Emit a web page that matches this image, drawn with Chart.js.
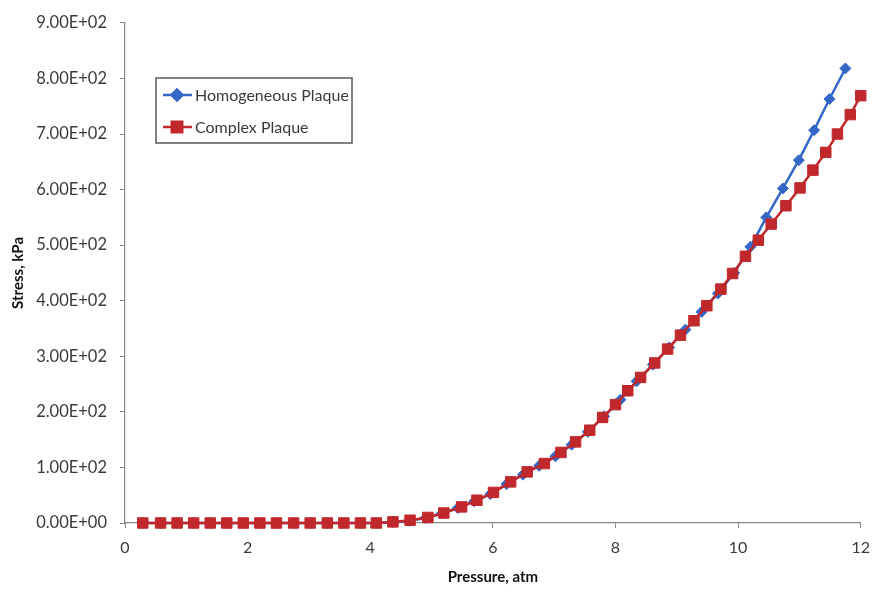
<!DOCTYPE html>
<html>
<head>
<meta charset="utf-8">
<title>Stress vs Pressure</title>
<script src="https://cdn.jsdelivr.net/npm/chart.js@4.4.1/dist/chart.umd.min.js"></script>
<style>
  html, body { margin: 0; padding: 0; background: #fff; }
  #wrap { width: 880px; height: 593px; position: relative; }
</style>
</head>
<body>
<div id="wrap"><canvas id="stressChart"></canvas></div>
<script>
const homogeneousPressure = [
  0.29, 0.58, 0.85, 1.12, 1.39, 1.66, 1.93, 2.20, 2.47, 2.75, 3.02, 3.30, 3.57, 3.84, 4.10, 4.37,
  4.635, 4.90, 5.165, 5.43, 5.695, 5.96, 6.225, 6.49, 6.755, 7.02, 7.285, 7.55, 7.815, 8.08,
  8.345, 8.61, 8.875, 9.14, 9.405, 9.67, 9.935, 10.20, 10.46, 10.73, 10.99, 11.24, 11.49, 11.75
];
const homogeneousStress = [
  0, 0, 0, 0, 0, 0, 0, 0, 0, 0, 0, 0, 0, 0, 0, 2,
  4, 9, 17, 27, 39, 52, 70, 87, 103, 120, 141, 164, 192, 222,
  255, 285, 316, 348, 380, 413, 450, 497, 550, 602, 653, 707, 763, 818
];
const complexPressure = [
  0.29, 0.58, 0.85, 1.12, 1.39, 1.66, 1.93, 2.20, 2.47, 2.75, 3.02, 3.30, 3.57, 3.84, 4.10, 4.37,
  4.65, 4.94, 5.20, 5.49, 5.74, 6.01, 6.29, 6.56, 6.84, 7.11, 7.35, 7.58, 7.79, 8.00,
  8.20, 8.41, 8.64, 8.85, 9.06, 9.28, 9.49, 9.72, 9.91, 10.12, 10.33, 10.54, 10.78, 11.01,
  11.22, 11.43, 11.62, 11.83, 12.00
];
const complexStress = [
  0, 0, 0, 0, 0, 0, 0, 0, 0, 0, 0, 0, 0, 0, 0, 2,
  5, 10, 18, 29, 41, 55, 74, 92, 107, 127, 146, 167, 190, 213,
  238, 262, 288, 313, 338, 364, 391, 421, 449, 480, 509, 538, 571, 603,
  635, 667, 700, 735, 769
];
const pressureTicks = [0, 2, 4, 6, 8, 10, 12];
const stressTicks = [0, 100, 200, 300, 400, 500, 600, 700, 800, 900];

const axisColor = "#868686";
const labelColor = "#3a3a3a";
const fontFamily = "Lato, 'Open Sans', sans-serif";

const legendBox = {
  id: "legendBox",
  afterDraw(chart) {
    const ctx = chart.ctx;
    const left = 156;
    const top = 78;
    const width = 196;
    const height = 65;

    ctx.save();
    ctx.fillStyle = "#ffffff";
    ctx.fillRect(left, top, width, height);
    ctx.strokeStyle = "#5a5a5a";
    ctx.lineWidth = 1.5;
    ctx.strokeRect(left, top, width, height);

    chart.data.datasets.forEach((ds, i) => {
      const y = top + 17 + i * 32;
      ctx.strokeStyle = ds.borderColor;
      ctx.lineWidth = ds.borderWidth;
      ctx.beginPath();
      ctx.moveTo(left + 7, y);
      ctx.lineTo(left + 36, y);
      ctx.stroke();

      ctx.fillStyle = ds.pointBackgroundColor;
      ctx.strokeStyle = ds.pointBorderColor;
      Chart.helpers.drawPoint(ctx, {
        pointStyle: ds.pointStyle,
        radius: ds.pointRadius,
        borderWidth: 1,
        rotation: 0
      }, left + 21, y);

      ctx.fillStyle = labelColor;
      ctx.font = `16px ${fontFamily}`;
      ctx.textBaseline = "middle";
      ctx.textAlign = "left";
      ctx.fillText(ds.label, left + 39, y + 1);
    });
    ctx.restore();
  }
};

function formatSci(value) {
  if (value === 0) {
    return "0.00E+00";
  }
  const exp = Math.floor(Math.log10(Math.abs(value)));
  const mant = value / Math.pow(10, exp);
  const sign = exp < 0 ? "-" : "+";
  return `${mant.toFixed(2)}E${sign}${String(Math.abs(exp)).padStart(2, "0")}`;
}

function toPoints(xs, ys) {
  return xs.map((x, i) => ({ x: x, y: ys[i] }));
}

const blue = "#3467c6";
const red = "#c0282b";

new Chart(document.getElementById("stressChart"), {
  type: "line",
  data: {
    datasets: [
      {
        label: "Homogeneous Plaque",
        data: toPoints(homogeneousPressure, homogeneousStress),
        borderColor: blue,
        backgroundColor: blue,
        pointBackgroundColor: blue,
        pointBorderColor: blue,
        pointStyle: "rectRot",
        pointRadius: 5.5,
        pointBorderWidth: 1,
        borderWidth: 2.5,
        tension: 0,
        clip: false,
        order: 1
      },
      {
        label: "Complex Plaque",
        data: toPoints(complexPressure, complexStress),
        borderColor: red,
        backgroundColor: red,
        pointBackgroundColor: red,
        pointBorderColor: red,
        pointStyle: "rect",
        pointRadius: 7.4,
        pointBorderWidth: 1,
        borderWidth: 2.5,
        tension: 0,
        clip: false,
        order: 0
      }
    ]
  },
  options: {
    responsive: true,
    maintainAspectRatio: false,
    animation: false,
    layout: {
      padding: { left: 0, right: 12, top: 16, bottom: 0 }
    },
    plugins: {
      legend: { display: false },
      tooltip: { enabled: false }
    },
    scales: {
      x: {
        type: "linear",
        min: 0,
        max: 12,
        afterBuildTicks: (axis) => {
          axis.ticks = pressureTicks.map((v) => ({ value: v }));
        },
        afterFit: (scale) => {
          scale.height = 70;
        },
        grid: {
          drawOnChartArea: false,
          drawTicks: true,
          tickLength: 5,
          color: axisColor
        },
        border: { color: axisColor, width: 1.2 },
        ticks: {
          padding: 10,
          color: labelColor,
          font: { family: fontFamily, size: 16 }
        },
        title: {
          display: true,
          text: "Pressure, atm",
          color: "#111",
          font: { family: fontFamily, size: 15, weight: "bold" },
          padding: { top: 0, bottom: 7 }
        }
      },
      y: {
        type: "linear",
        min: 0,
        max: 900,
        afterBuildTicks: (axis) => {
          axis.ticks = stressTicks.map((v) => ({ value: v }));
        },
        afterFit: (scale) => {
          scale.width = 125;
        },
        grid: {
          drawOnChartArea: false,
          drawTicks: true,
          tickLength: 5,
          color: axisColor
        },
        border: { color: axisColor, width: 1.2 },
        ticks: {
          padding: 13,
          color: labelColor,
          font: { family: fontFamily, size: 16.5 },
          callback: (value) => formatSci(value)
        },
        title: {
          display: true,
          text: "Stress, kPa",
          color: "#111",
          font: { family: fontFamily, size: 15, weight: "bold" },
          padding: { top: 9, bottom: 0 }
        }
      }
    }
  },
  plugins: [legendBox]
});
</script>
</body>
</html>
